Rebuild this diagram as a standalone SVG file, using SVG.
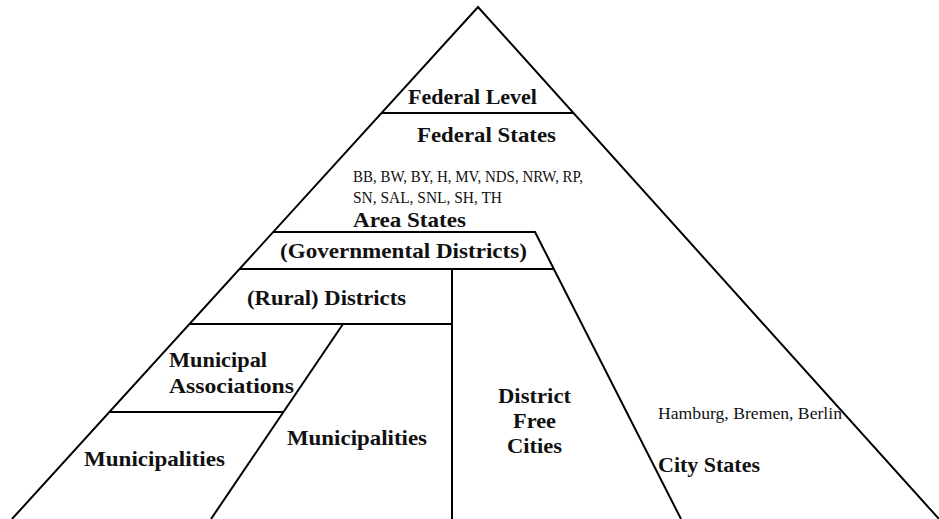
<svg xmlns="http://www.w3.org/2000/svg" width="939" height="519" viewBox="0 0 939 519">
<style>
.ln{stroke:#000;stroke-width:2;fill:none;stroke-linecap:butt}
.b{font-family:"Liberation Serif","Times New Roman",serif;font-weight:bold;font-size:21px;fill:#111}
.r{font-family:"Liberation Serif","Times New Roman",serif;font-size:17px;fill:#111}
</style>
<rect width="939" height="519" fill="#fff"/>
<g id="connectors">
<polyline class="ln" points="12,519 478,7 939,519"/>
<line class="ln" x1="381" y1="113" x2="574" y2="113"/>
<polyline class="ln" points="273,232 535,232 681,519"/>
<line class="ln" x1="240" y1="269" x2="554" y2="269"/>
<line class="ln" x1="452" y1="269" x2="452" y2="519"/>
<line class="ln" x1="189" y1="324" x2="452" y2="324"/>
<line class="ln" x1="343" y1="324" x2="211" y2="519"/>
<line class="ln" x1="109" y1="412" x2="284" y2="412"/>
</g>
<g id="federal-level"><text class="b" x="408" y="104" textLength="129" lengthAdjust="spacingAndGlyphs">Federal Level</text></g>
<g id="federal-states"><text class="b" x="417" y="142" textLength="139" lengthAdjust="spacingAndGlyphs">Federal States</text></g>
<g id="area-states">
<text class="r" x="353" y="182" textLength="230" lengthAdjust="spacingAndGlyphs">BB, BW, BY, H, MV, NDS, NRW, RP,</text>
<text class="r" x="353" y="203" textLength="149" lengthAdjust="spacingAndGlyphs">SN, SAL, SNL, SH, TH</text>
<text class="b" x="353" y="227" textLength="113" lengthAdjust="spacingAndGlyphs">Area States</text>
</g>
<g id="governmental-districts"><text class="b" x="280" y="258" textLength="247" lengthAdjust="spacingAndGlyphs">(Governmental Districts)</text></g>
<g id="rural-districts"><text class="b" x="247" y="305" textLength="159" lengthAdjust="spacingAndGlyphs">(Rural) Districts</text></g>
<g id="municipal-associations">
<text class="b" x="169" y="367" textLength="98" lengthAdjust="spacingAndGlyphs">Municipal</text>
<text class="b" x="169" y="393" textLength="125" lengthAdjust="spacingAndGlyphs">Associations</text>
</g>
<g id="municipalities-left"><text class="b" x="84" y="466" textLength="141" lengthAdjust="spacingAndGlyphs">Municipalities</text></g>
<g id="municipalities-mid"><text class="b" x="287" y="445" textLength="140" lengthAdjust="spacingAndGlyphs">Municipalities</text></g>
<g id="district-free-cities">
<text class="b" x="498" y="403" textLength="73" lengthAdjust="spacingAndGlyphs">District</text>
<text class="b" x="513" y="428" textLength="43" lengthAdjust="spacingAndGlyphs">Free</text>
<text class="b" x="507" y="453" textLength="55" lengthAdjust="spacingAndGlyphs">Cities</text>
</g>
<g id="city-states">
<text class="r" x="658" y="419" textLength="184" lengthAdjust="spacingAndGlyphs">Hamburg, Bremen, Berlin</text>
<text class="b" x="658" y="472" textLength="102" lengthAdjust="spacingAndGlyphs">City States</text>
</g>
</svg>
